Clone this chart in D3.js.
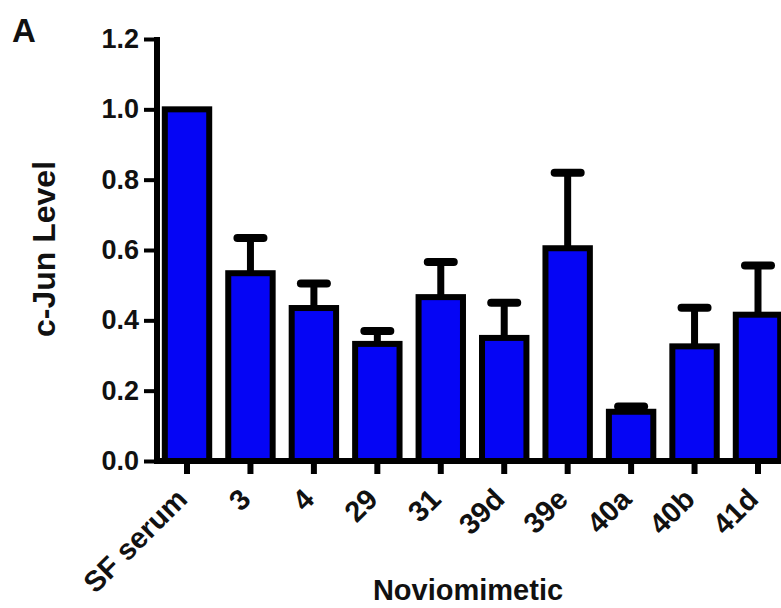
<!DOCTYPE html>
<html>
<head>
<meta charset="utf-8">
<script src="https://cdn.jsdelivr.net/npm/d3@7"></script>
<style>
  html, body { margin: 0; padding: 0; background: #ffffff; }
  svg { display: block; }
</style>
</head>
<body>
<svg id="chart" width="781" height="608"></svg>
<script>
const categories = ["SF serum", "3", "4", "29", "31", "39d", "39e", "40a", "40b", "41d"];
const means = [1.0, 0.534, 0.435, 0.333, 0.466, 0.35, 0.605, 0.14, 0.326, 0.416];
const errors = [0.0, 0.10, 0.07, 0.037, 0.10, 0.10, 0.215, 0.015, 0.11, 0.14];
const yTicks = [0.0, 0.2, 0.4, 0.6, 0.8, 1.0, 1.2];

const svg = d3.select("#chart");
const font = "'Liberation Sans', Arial, sans-serif";

const x = d3.scaleBand()
  .domain(categories)
  .range([157, 788])
  .paddingInner(0.3)
  .paddingOuter(0.123);

const y = d3.scaleLinear().domain([0, 1.2]).range([461, 39]);

// Bars
svg.append("g").selectAll("rect")
  .data(categories)
  .enter().append("rect")
  .attr("x", d => x(d))
  .attr("width", x.bandwidth())
  .attr("y", (d, i) => y(means[i]))
  .attr("height", (d, i) => y(0) - y(means[i]))
  .attr("fill", "#0505f5")
  .attr("stroke", "#000")
  .attr("stroke-width", 6);

// Error bars (upper only)
const eg = svg.append("g");
categories.forEach((c, i) => {
  if (errors[i] <= 0) return;
  const cx = x(c) + x.bandwidth() / 2;
  eg.append("line")
    .attr("x1", cx).attr("x2", cx)
    .attr("y1", y(means[i])).attr("y2", y(means[i] + errors[i]))
    .attr("stroke", "#000").attr("stroke-width", 7);
  eg.append("line")
    .attr("x1", cx - 13).attr("x2", cx + 13)
    .attr("y1", y(means[i] + errors[i])).attr("y2", y(means[i] + errors[i]))
    .attr("stroke", "#000").attr("stroke-width", 8)
    .attr("stroke-linecap", "round");
});

// Y axis
const yAxis = d3.axisLeft(y).tickValues(yTicks).tickFormat(d3.format(".1f")).tickSize(13).tickPadding(5);
const yg = svg.append("g").attr("transform", "translate(157,0)").call(yAxis);
yg.select(".domain").attr("stroke", "#000").attr("stroke-width", 6)
  .attr("d", `M0,${y(1.2) - 2}V${y(0) + 3}`);
yg.selectAll(".tick line").attr("stroke", "#000").attr("stroke-width", 4);
yg.selectAll(".tick text")
  .attr("font-family", font).attr("font-weight", "bold").attr("font-size", 27)
  .attr("fill", "#111");

// X axis
const xAxis = d3.axisBottom(x).tickSize(13).tickFormat("");
const xg = svg.append("g").attr("transform", `translate(0,${y(0)})`).call(xAxis);
xg.select(".domain").attr("stroke", "#000").attr("stroke-width", 6)
  .attr("d", `M154,0H781`);
xg.selectAll(".tick line").attr("stroke", "#000").attr("stroke-width", 6);

// X tick labels rotated
svg.append("g").selectAll("text")
  .data(categories)
  .enter().append("text")
  .attr("transform", d => `translate(${x(d) + x.bandwidth() / 2 + 2},501) rotate(-45)`)
  .attr("text-anchor", "end")
  .attr("font-family", font).attr("font-weight", "bold").attr("font-size", 29)
  .attr("fill", "#111")
  .text(d => d);

// Axis titles
svg.append("text")
  .attr("transform", "translate(55,249) rotate(-90)")
  .attr("text-anchor", "middle")
  .attr("font-family", font).attr("font-weight", "bold").attr("font-size", 32)
  .attr("fill", "#111")
  .text("c-Jun Level");

svg.append("text")
  .attr("x", 468).attr("y", 600)
  .attr("text-anchor", "middle")
  .attr("font-family", font).attr("font-weight", "bold").attr("font-size", 29)
  .attr("fill", "#111")
  .text("Noviomimetic");

// Panel label
svg.append("text")
  .attr("x", 12).attr("y", 42)
  .attr("font-family", font).attr("font-weight", "bold").attr("font-size", 33)
  .attr("fill", "#111")
  .text("A");
</script>
</body>
</html>
